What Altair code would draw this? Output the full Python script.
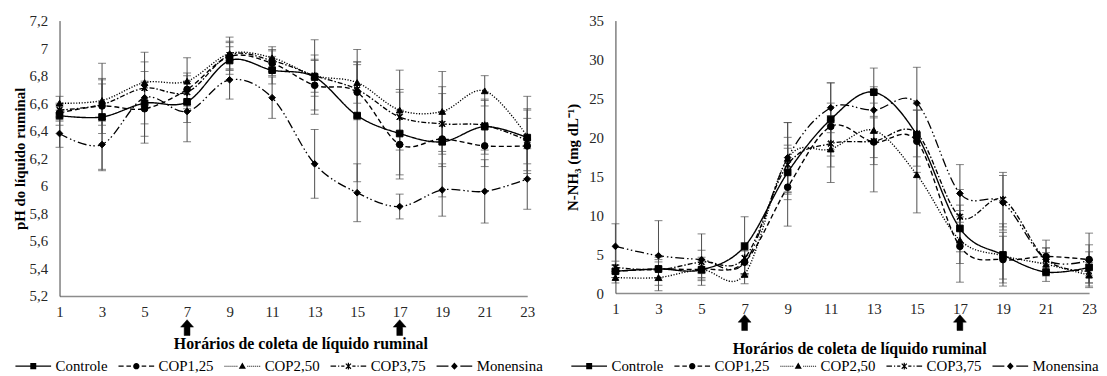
import altair as alt
import pandas as pd

FONT = "Liberation Serif, Times New Roman, serif"

hours = [1, 3, 5, 7, 9, 11, 13, 15, 17, 19, 21, 23]
series = ["Controle", "COP1,25", "COP2,50", "COP3,75", "Monensina"]
feeding_hours = [7, 17]

# ---- pH do líquido ruminal ----
ph_controle = [6.51, 6.50, 6.60, 6.61, 6.91, 6.84, 6.79, 6.51, 6.38, 6.32, 6.43, 6.35]
ph_cop125 = [6.53, 6.58, 6.56, 6.70, 6.94, 6.89, 6.73, 6.68, 6.30, 6.34, 6.29, 6.29]
ph_cop250 = [6.60, 6.62, 6.75, 6.76, 6.96, 6.93, 6.80, 6.75, 6.55, 6.54, 6.69, 6.36]
ph_cop375 = [6.55, 6.59, 6.71, 6.68, 6.95, 6.91, 6.80, 6.70, 6.50, 6.45, 6.44, 6.33]
ph_monensina = [6.38, 6.30, 6.64, 6.54, 6.77, 6.64, 6.16, 5.95, 5.85, 5.97, 5.96, 6.05]

ph_err_controle = [0.07, 0.39, 0.15, 0.15, 0.10, 0.10, 0.27, 0.48, 0.30, 0.40, 0.20, 0.30]
ph_err_cop125 = [0.06, 0.20, 0.20, 0.12, 0.10, 0.09, 0.18, 0.20, 0.25, 0.20, 0.15, 0.20]
ph_err_cop250 = [0.05, 0.15, 0.15, 0.17, 0.12, 0.08, 0.12, 0.15, 0.29, 0.29, 0.11, 0.20]
ph_err_cop375 = [0.05, 0.15, 0.12, 0.12, 0.10, 0.08, 0.15, 0.20, 0.20, 0.22, 0.18, 0.22]
ph_err_monensina = [0.10, 0.18, 0.33, 0.22, 0.14, 0.15, 0.25, 0.21, 0.09, 0.19, 0.23, 0.22]

ph_ticks = [5.2, 5.4, 5.6, 5.8, 6.0, 6.2, 6.4, 6.6, 6.8, 7.0, 7.2]

# ---- N-NH3 (mg/dL) ----
n_controle = [2.8, 3.1, 3.0, 6.0, 15.5, 22.3, 25.8, 20.3, 8.3, 4.9, 2.7, 3.3]
n_cop125 = [2.8, 3.1, 3.1, 4.0, 13.6, 21.4, 19.4, 19.5, 6.0, 4.3, 4.7, 4.3]
n_cop250 = [2.0, 2.0, 3.0, 2.4, 17.3, 18.5, 20.9, 15.2, 6.8, 4.8, 3.7, 2.3]
n_cop375 = [3.3, 3.0, 4.0, 4.5, 16.5, 19.2, 19.5, 20.5, 9.8, 12.0, 4.3, 2.8]
n_monensina = [6.0, 4.8, 4.3, 3.9, 17.4, 23.8, 23.5, 24.4, 12.8, 11.6, 4.3, 4.2]

n_err_controle = [0.8, 1.5, 1.2, 3.8, 3.5, 4.7, 3.1, 4.0, 3.0, 4.0, 1.2, 2.0]
n_err_cop125 = [0.8, 1.2, 1.5, 1.5, 5.0, 3.0, 6.4, 4.0, 4.6, 3.0, 2.1, 3.4]
n_err_cop250 = [0.7, 1.0, 1.0, 1.2, 4.6, 4.3, 3.5, 4.9, 3.0, 3.0, 1.5, 1.6]
n_err_cop375 = [0.8, 1.0, 1.5, 2.0, 3.5, 3.0, 3.0, 3.0, 3.5, 3.5, 1.5, 1.5]
n_err_monensina = [2.9, 4.5, 3.3, 1.5, 4.5, 3.2, 3.0, 4.6, 3.7, 3.5, 1.5, 2.0]

n_ticks = [0, 5, 10, 15, 20, 25, 30, 35]

# ---- styles ----
dashes = [[1, 0], [5, 3], [1.2, 1.6], [5, 2, 1.5, 2], [9, 3, 1.5, 2.5, 1.5, 3]]
line_widths = [1.4, 1.3, 1.1, 1.2, 1.3]

ASTER = ("M-0.12,-1H0.12V1H-0.12Z"
         "M-0.715,-0.885L0.885,0.715L0.715,0.885L-0.885,-0.715Z"
         "M-0.885,0.715L0.715,-0.885L0.885,-0.715L-0.715,0.885Z")
marker_shapes = ["square", "circle", "triangle-up", ASTER, "diamond"]


def seg(x0, x1, h=0.3):
    return f"M{x0},{-h}H{x1}V{h}H{x0}Z"


def dots(x0, x1, step=1.0, w=0.5, h=0.25):
    out, x = "", x0
    while x + w <= x1 + 1e-9:
        out += seg(round(x, 2), round(x + w, 2), h)
        x += step
    return out


LEG_ASTER = ("M7.7,-1.7H8.3V1.7H7.7Z"
             "M6.91,-1.51L9.51,1.09L9.09,1.51L6.49,-1.09Z"
             "M6.49,1.09L9.09,-1.51L9.51,-1.09L6.91,1.51Z")
legend_paths = [
    seg(-1, 17) + "M6.5,-1.6H9.5V1.6H6.5Z",
    seg(-1, 1.6) + seg(3, 5.3) + seg(10.7, 13) + seg(14.4, 17)
    + "M6.4,0A1.6,1.6 0 1,1 9.6,0A1.6,1.6 0 1,1 6.4,0Z",
    dots(-1, 5.5) + dots(10.5, 17) + "M8,-1.8L9.8,1.3L6.2,1.3Z",
    seg(-1, 1.8) + seg(2.8, 3.4) + seg(4.4, 6) + seg(10, 11.6) + seg(12.6, 13.2)
    + seg(14.2, 17) + LEG_ASTER,
    seg(-1, 5) + seg(11, 17) + "M8,-1.8L9.7,0L8,1.8L6.3,0Z",
]
arrow_path = "M0,-1.25L1,-0.1L0.45,-0.1L0.45,1.2L-0.45,1.2L-0.45,-0.1L-1,-0.1Z"


def build(values, errors):
    rows = []
    for s, vals, errs in zip(series, values, errors):
        for h, v, e in zip(hours, vals, errs):
            rows.append({"hora": h, "serie": s, "valor": v, "lo": v - e, "hi": v + e})
    return pd.DataFrame(rows)


ph_df = build(
    [ph_controle, ph_cop125, ph_cop250, ph_cop375, ph_monensina],
    [ph_err_controle, ph_err_cop125, ph_err_cop250, ph_err_cop375, ph_err_monensina],
)
n_df = build(
    [n_controle, n_cop125, n_cop250, n_cop375, n_monensina],
    [n_err_controle, n_err_cop125, n_err_cop250, n_err_cop375, n_err_monensina],
)
arrows_df = pd.DataFrame({"hora": feeding_hours})


def panel(df, ydomain, yticks, ytitle, label_expr, width, height, xtitle_pad,
          ytitle_pad, arrow_dy, legend_x, legend_y):
    xscale = alt.Scale(domain=[1, 23], nice=False, zero=False)
    yscale = alt.Scale(domain=ydomain, nice=False, zero=False)
    xaxis = alt.Axis(
        values=hours, ticks=False, grid=False, domainColor="#8c8c8c", domainWidth=1.5,
        labelFont=FONT, labelFontSize=15, labelColor="#262626", labelPadding=9,
        labelFlush=False, labelOverlap=False,
        title="Horários de coleta de líquido ruminal", titleFont=FONT, titleFontSize=16,
        titleFontWeight="bold", titleColor="black", titlePadding=xtitle_pad,
        titleX=width / 2 + 7,
    )
    yaxis = alt.Axis(
        values=yticks, tickCount=len(yticks), ticks=False, grid=False,
        domainColor="#404040", domainWidth=1,
        labelFont=FONT, labelFontSize=15, labelColor="#262626", labelPadding=12,
        labelExpr=label_expr, labelOverlap=False, labelSeparation=0, labelFlush=False,
        labelBound=False,
        title=ytitle, titleFont=FONT, titleFontSize=15, titleFontWeight="bold",
        titleColor="black", titlePadding=ytitle_pad,
    )
    x = alt.X("hora:Q", scale=xscale, axis=xaxis)
    y = alt.Y("valor:Q", scale=yscale, axis=yaxis)

    lines = alt.Chart(df).mark_line(interpolate="cardinal", color="black").encode(
        x=x, y=y,
        strokeDash=alt.StrokeDash("serie:N", scale=alt.Scale(domain=series, range=dashes), legend=None),
        strokeWidth=alt.StrokeWidth("serie:N", scale=alt.Scale(domain=series, range=line_widths), legend=None),
        order=alt.Order("hora:Q"),
    )
    rules = alt.Chart(df).mark_rule(color="#4d4d4d", strokeWidth=1).encode(
        x=alt.X("hora:Q"), y=alt.Y("lo:Q"), y2="hi:Q"
    )
    caps_lo = alt.Chart(df).mark_tick(color="#4d4d4d", orient="horizontal", size=8, thickness=1).encode(
        x=alt.X("hora:Q"), y=alt.Y("lo:Q")
    )
    caps_hi = alt.Chart(df).mark_tick(color="#4d4d4d", orient="horizontal", size=8, thickness=1).encode(
        x=alt.X("hora:Q"), y=alt.Y("hi:Q")
    )
    points = alt.Chart(df).mark_point(fill="black", stroke="black", strokeWidth=1, opacity=1, filled=True).encode(
        x=alt.X("hora:Q"), y=alt.Y("valor:Q"),
        shape=alt.Shape("serie:N", scale=alt.Scale(domain=series, range=marker_shapes), legend=None),
        size=alt.value(45),
    )
    legend_layer = alt.Chart(df).mark_point(
        fill="black", filled=True, opacity=0, size=0.01
    ).encode(
        x=alt.X("hora:Q"), y=alt.Y("valor:Q"),
        shape=alt.Shape(
            "serie:N",
            scale=alt.Scale(domain=series, range=legend_paths),
            legend=alt.Legend(
                title=None, orient="none", legendX=legend_x, legendY=legend_y,
                direction="horizontal", columns=5, labelFont=FONT, labelFontSize=15,
                labelColor="black", symbolSize=16, symbolStrokeWidth=0,
                symbolOpacity=1, symbolFillColor="black", gridAlign="each",
                labelOffset=31, columnPadding=5, padding=0,
            ),
        ),
    )
    arrows = alt.Chart(arrows_df).mark_point(
        shape=arrow_path, filled=True, fill="black", stroke="black", strokeWidth=0.5, opacity=1, size=169
    ).encode(x=alt.X("hora:Q"), y=alt.value(height + arrow_dy))

    return alt.layer(rules, caps_lo, caps_hi, lines, points, legend_layer, arrows).resolve_scale(
        shape="independent"
    ).properties(width=width, height=height)


left = panel(
    ph_df, [5.2, 7.2], ph_ticks, "pH do líquido ruminal",
    "replace(format(datum.value, '.1~f'), '.', ',')",
    472, 278, 16, 2, 32, -50, 341,
)
right = panel(
    n_df, [0, 35], n_ticks, "N-NH₃ (mg dL⁻¹)",
    "format(datum.value, 'd')",
    478, 275, 24, 8, 30, -50, 341,
)

chart = alt.hconcat(left, right, spacing=23).resolve_scale(
    shape="independent", strokeDash="independent", strokeWidth="independent",
    x="independent", y="independent",
).resolve_legend(shape="independent").properties(
    padding={"left": 2, "top": 4, "right": 0, "bottom": 0},
    background="white",
).configure(font=FONT).configure_view(stroke=None).configure_axis(
    labelOverlap=False, labelFont=FONT
).configure_legend(labelFont=FONT)

chart.save("out.html", embed_options={"renderer": "svg", "actions": False})
